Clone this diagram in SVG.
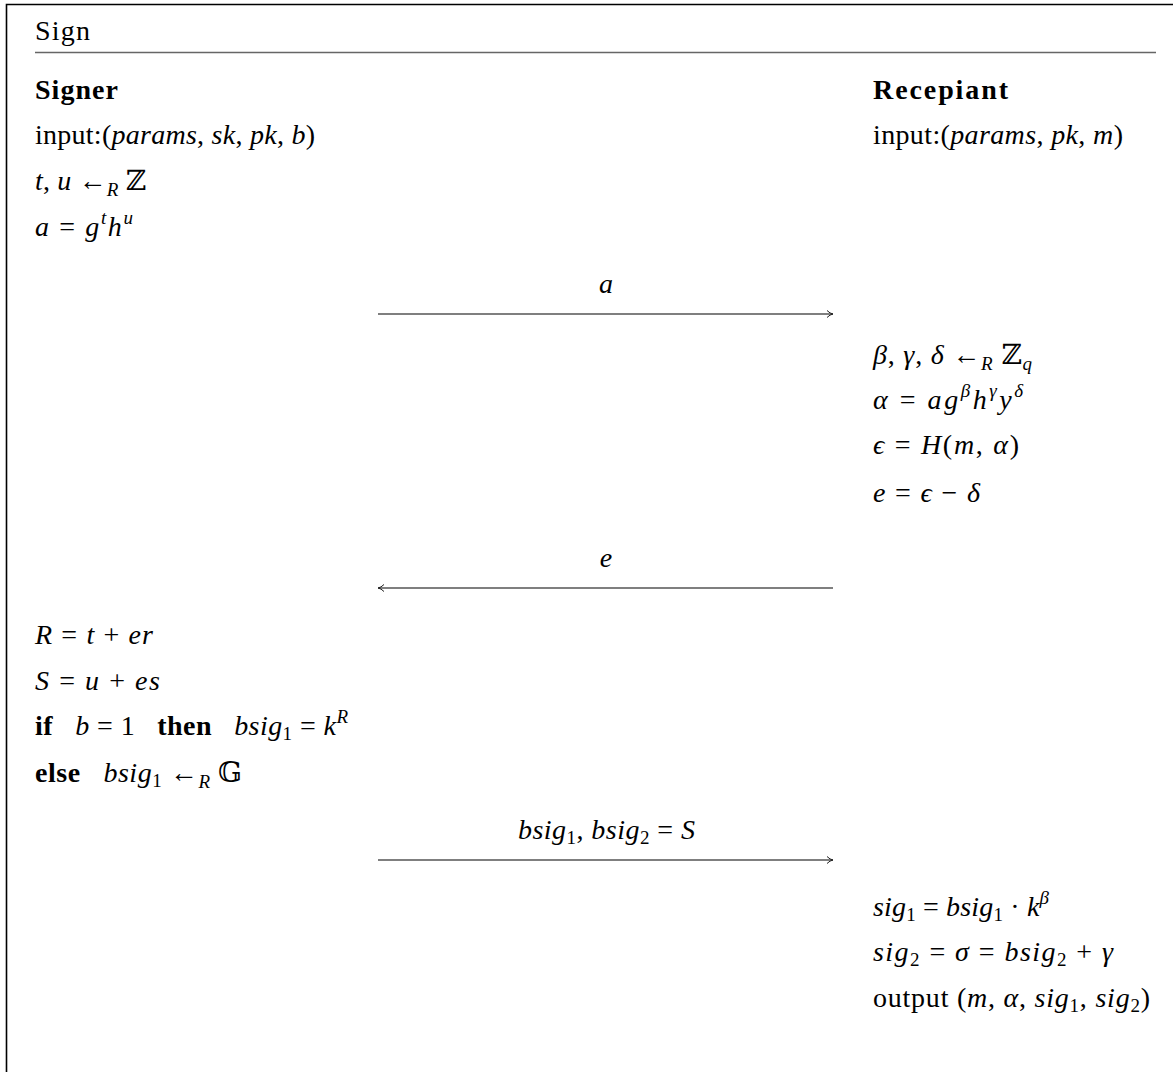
<svg xmlns="http://www.w3.org/2000/svg" width="1173" height="1072" viewBox="0 0 1173 1072">
<style>
text{font-family:"Liberation Serif","DejaVu Serif",serif;font-size:28px;fill:#000}
.b{font-weight:bold}
.i{font-style:italic}
.s{font-size:19px}
.frame{stroke:#000;stroke-width:1.6;fill:none}
.rule{stroke:#666;stroke-width:1.6}
.msg{stroke:#555;stroke-width:1.4;fill:none}
</style>
<defs>
<marker id="ah" viewBox="0 0 10 10" refX="9" refY="5" markerWidth="10" markerHeight="10" markerUnits="userSpaceOnUse" orient="auto-start-reverse">
<path d="M3,1.5 Q6,4.5 9,5 Q6,5.5 3,8.5" fill="none" stroke="#222" stroke-width="1"/>
</marker>
</defs>
<g id="frame">
<path class="frame" d="M6.5,1072 V4.5 H1173"/>
<line class="rule" x1="35" y1="52.5" x2="1156" y2="52.5"/>
<text x="35" y="40" textLength="55" lengthAdjust="spacing">Sign</text>
</g>
<g id="signer">
<text class="b" x="35" y="99" textLength="83" lengthAdjust="spacing">Signer</text>
<text x="35" y="144" textLength="280" lengthAdjust="spacing">input:(<tspan class="i">params</tspan>, <tspan class="i">sk</tspan>, <tspan class="i">pk</tspan>, <tspan class="i">b</tspan>)</text>
<text x="35" y="190" textLength="111" lengthAdjust="spacing"><tspan class="i">t</tspan>, <tspan class="i">u</tspan> ←<tspan class="i s" dy="6">R</tspan><tspan dy="-6"> ℤ</tspan></text>
<text x="35" y="236" textLength="98" lengthAdjust="spacing"><tspan class="i">a</tspan> = <tspan class="i">g</tspan><tspan class="i s" dy="-12">t</tspan><tspan class="i" dy="12">h</tspan><tspan class="i s" dy="-12">u</tspan></text>
</g>
<g id="signer2">
<text x="35" y="644" textLength="118" lengthAdjust="spacing"><tspan class="i">R</tspan> = <tspan class="i">t</tspan> + <tspan class="i">er</tspan></text>
<text x="35" y="690" textLength="125" lengthAdjust="spacing"><tspan class="i">S</tspan> = <tspan class="i">u</tspan> + <tspan class="i">es</tspan></text>
<text x="35" y="735" textLength="313" lengthAdjust="spacing" xml:space="preserve"><tspan class="b">if</tspan>   <tspan class="i">b</tspan> = 1   <tspan class="b">then</tspan>   <tspan class="i">bsig</tspan><tspan class="s" dy="5">1</tspan><tspan dy="-5"> = </tspan><tspan class="i">k</tspan><tspan class="i s" dy="-12">R</tspan></text>
<text x="35" y="782" textLength="207" lengthAdjust="spacing" xml:space="preserve"><tspan class="b">else</tspan>   <tspan class="i">bsig</tspan><tspan class="s" dy="5">1</tspan><tspan dy="-5"> ←</tspan><tspan class="i s" dy="6">R</tspan><tspan dy="-6"> 𝔾</tspan></text>
</g>
<g id="recipient">
<text class="b" x="873" y="99" textLength="135" lengthAdjust="spacing">Recepiant</text>
<text x="873" y="144" textLength="250" lengthAdjust="spacing">input:(<tspan class="i">params</tspan>, <tspan class="i">pk</tspan>, <tspan class="i">m</tspan>)</text>
</g>
<g id="recipient2">
<text x="873" y="364" textLength="159" lengthAdjust="spacing"><tspan class="i">β</tspan>, <tspan class="i">γ</tspan>, <tspan class="i">δ</tspan> ←<tspan class="i s" dy="6">R</tspan><tspan dy="-6"> ℤ</tspan><tspan class="i s" dy="6">q</tspan></text>
<text x="873" y="409" textLength="150" lengthAdjust="spacing"><tspan class="i">α</tspan> = <tspan class="i">ag</tspan><tspan class="i s" dy="-12">β</tspan><tspan class="i" dy="12">h</tspan><tspan class="i s" dy="-12">γ</tspan><tspan class="i" dy="12">y</tspan><tspan class="i s" dy="-12">δ</tspan></text>
<text x="873" y="454" textLength="146" lengthAdjust="spacing"><tspan class="i">ϵ</tspan> = <tspan class="i">H</tspan>(<tspan class="i">m</tspan>, <tspan class="i">α</tspan>)</text>
<text x="873" y="502" textLength="107" lengthAdjust="spacing"><tspan class="i">e</tspan> = <tspan class="i">ϵ</tspan> − <tspan class="i">δ</tspan></text>
</g>
<g id="recipient3">
<text x="873" y="916" textLength="176" lengthAdjust="spacing"><tspan class="i">sig</tspan><tspan class="s" dy="5">1</tspan><tspan dy="-5"> = </tspan><tspan class="i">bsig</tspan><tspan class="s" dy="5">1</tspan><tspan dy="-5"> · </tspan><tspan class="i">k</tspan><tspan class="i s" dy="-12">β</tspan></text>
<text x="873" y="961" textLength="240" lengthAdjust="spacing"><tspan class="i">sig</tspan><tspan class="s" dy="5">2</tspan><tspan dy="-5"> = </tspan><tspan class="i">σ</tspan> = <tspan class="i">bsig</tspan><tspan class="s" dy="5">2</tspan><tspan dy="-5"> + </tspan><tspan class="i">γ</tspan></text>
<text x="873" y="1007" textLength="277" lengthAdjust="spacing">output (<tspan class="i">m</tspan>, <tspan class="i">α</tspan>, <tspan class="i">sig</tspan><tspan class="s" dy="5">1</tspan><tspan dy="-5">, </tspan><tspan class="i">sig</tspan><tspan class="s" dy="5">2</tspan><tspan dy="-5">)</tspan></text>
</g>
<g id="connectors">
<line class="msg" x1="378" y1="314" x2="833" y2="314" marker-end="url(#ah)"/>
<text class="i" x="606" y="293" text-anchor="middle">a</text>
<line class="msg" x1="378" y1="588" x2="833" y2="588" marker-start="url(#ah)"/>
<text class="i" x="606" y="567" text-anchor="middle">e</text>
<line class="msg" x1="378" y1="860" x2="833" y2="860" marker-end="url(#ah)"/>
<text x="518" y="839" textLength="177" lengthAdjust="spacing"><tspan class="i">bsig</tspan><tspan class="s" dy="5">1</tspan><tspan dy="-5">, </tspan><tspan class="i">bsig</tspan><tspan class="s" dy="5">2</tspan><tspan dy="-5"> = </tspan><tspan class="i">S</tspan></text>
</g>
</svg>
